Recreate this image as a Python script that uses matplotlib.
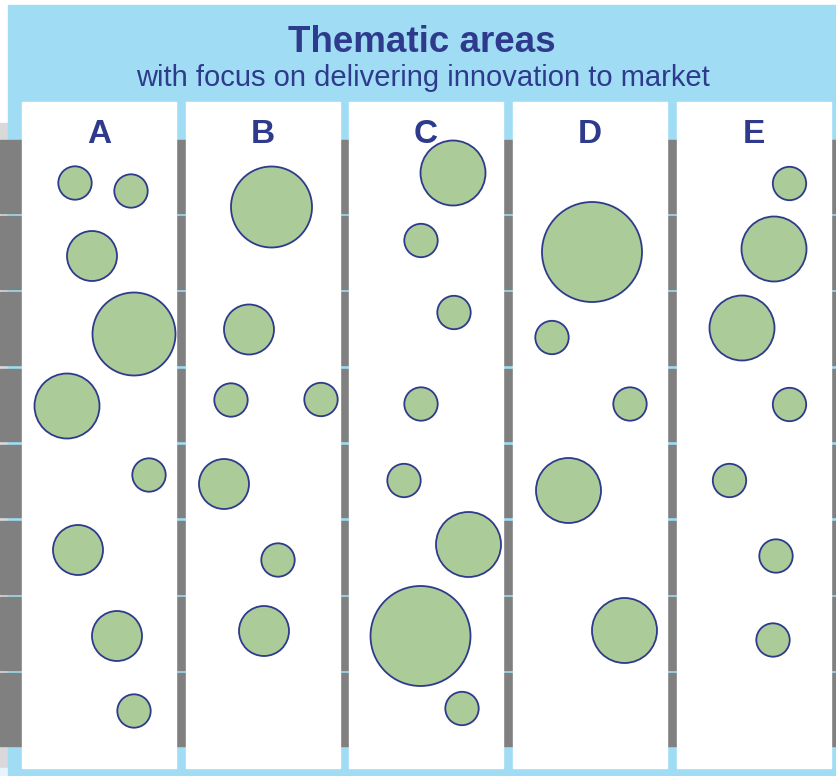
import matplotlib.pyplot as plt
from matplotlib.patches import Rectangle, Circle

# thematic areas (columns) and their circles: centre x, centre y, radius (pixels)
areas = ['A', 'B', 'C', 'D', 'E']
col_left = [22, 186, 349, 513, 677]

a_x = [75, 131, 92, 134, 67, 149, 78, 117, 134]
a_y = [183, 191, 256, 334, 406, 475, 550, 636, 711]
a_r = [16.7, 16.7, 25, 41.5, 32.5, 16.7, 25, 25, 16.7]

b_x = [271.5, 249, 231, 321, 224, 278, 264]
b_y = [207, 329.5, 400, 399.5, 484, 560, 631]
b_r = [40.5, 25, 16.7, 16.7, 25, 16.7, 25]

c_x = [453, 421, 454, 421, 404, 468.5, 420.5, 462]
c_y = [173, 240.5, 312.5, 404, 480.5, 544.5, 636, 708.5]
c_r = [32.5, 16.7, 16.7, 16.7, 16.7, 32.5, 50, 16.7]

d_x = [592, 552, 630, 568.5, 624.5]
d_y = [252, 337.5, 404, 490.5, 630.5]
d_r = [50, 16.7, 16.7, 32.5, 32.5]

e_x = [789.5, 774, 742, 789.5, 729.5, 776, 773]
e_y = [183.5, 249, 328, 404.5, 480.5, 556, 640]
e_r = [16.7, 32.5, 32.5, 16.7, 16.7, 16.7, 16.7]

circles = [(a_x, a_y, a_r), (b_x, b_y, b_r), (c_x, c_y, c_r), (d_x, d_y, d_r), (e_x, e_y, e_r)]

navy = '#2E3A8C'
light_blue = '#A0DCF4'
green = '#ABCB98'

fig = plt.figure(figsize=(8.36, 7.76), dpi=100)
ax = fig.add_axes([0, 0, 1, 1])
ax.set_xlim(0, 836)
ax.set_ylim(776, 0)
ax.axis('off')

# background pieces
ax.add_patch(Rectangle((0, 123), 8, 645, color='#D9D9D9', zorder=0))
ax.add_patch(Rectangle((0, 768), 8, 8, color='#E6F5FC', zorder=0))
ax.add_patch(Rectangle((8, 5), 828, 771, color=light_blue, zorder=0))

# grey bands behind the columns
for i in range(8):
    ax.add_patch(Rectangle((0, 140 + i * 76.2), 836, 72.5, color='#808080', zorder=1))

# white columns
for left in col_left:
    ax.add_patch(Rectangle((left, 102), 154, 666, color='white', zorder=2))

# circles
for xs, ys, rs in circles:
    for x, y, r in zip(xs, ys, rs):
        ax.add_patch(Circle((x, y), r, facecolor=green, edgecolor=navy, lw=1.3, zorder=3))

# titles
ax.text(422, 52, 'Thematic areas', ha='center', va='baseline', fontsize=26.5,
        fontweight='bold', color=navy, family='Liberation Sans')
ax.text(423, 86, 'with focus on delivering innovation to market', ha='center', va='baseline',
        fontsize=21, color=navy, family='Liberation Sans')
for name, left in zip(areas, col_left):
    ax.text(left + 77, 143, name, ha='center', va='baseline', fontsize=24,
            fontweight='bold', color=navy, family='Liberation Sans')

fig.savefig('out.png', dpi=100)
